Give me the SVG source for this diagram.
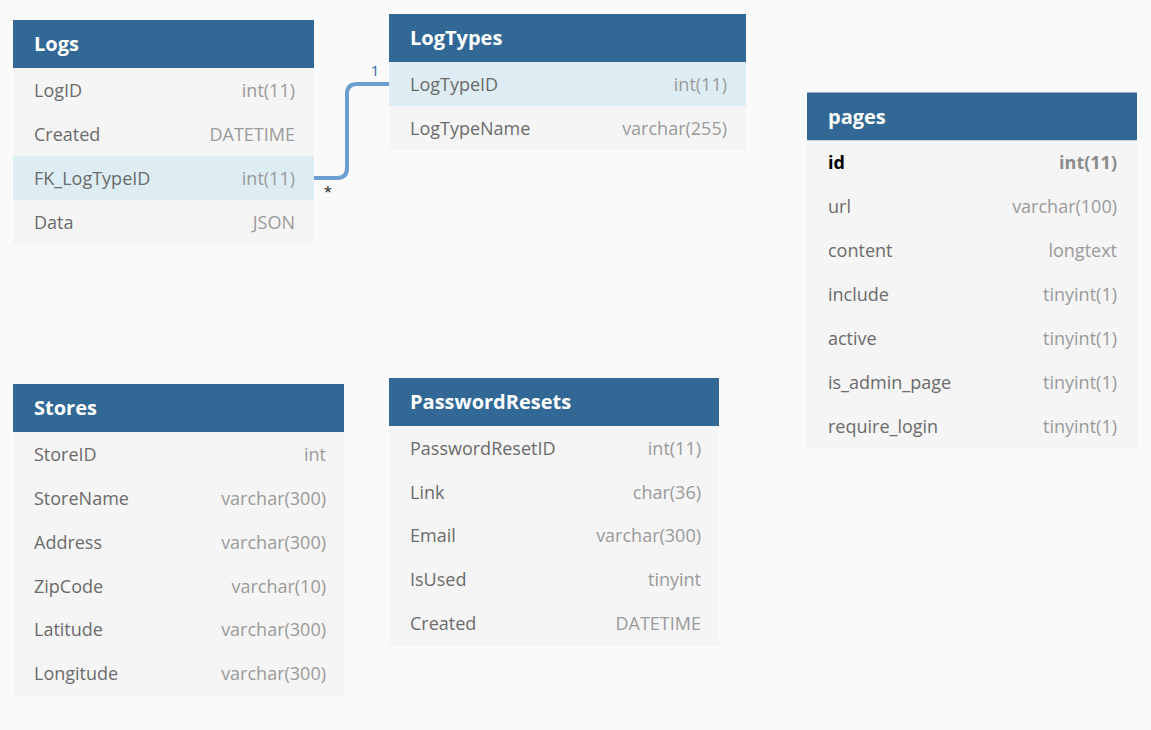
<svg xmlns="http://www.w3.org/2000/svg" width="1151" height="730" viewBox="0 0 1151 730">
<style>
.bg{fill:#fafafa}
.hd{fill:#316896}
.row{fill:#f5f5f5}
.hl{fill:#deedf4}
.ht{font-family:"Open Sans","Liberation Sans",sans-serif;font-size:20px;font-weight:bold;fill:#ffffff}
.fn{font-family:"Open Sans","Liberation Sans",sans-serif;font-size:18px;fill:#6b6b6b}
.ft{font-family:"Open Sans","Liberation Sans",sans-serif;font-size:18px;fill:#9a9a9a;text-anchor:end}
.pk{font-weight:bold;fill:#000000}
.pkt{font-weight:bold;fill:#8c8c8c}
.conn{fill:none;stroke:#6a9fd0;stroke-width:4}
.lbl{font-family:"Open Sans","Liberation Sans",sans-serif;font-size:15px}
</style>
<rect class="bg" x="0" y="0" width="1151" height="730"/>

<g id="connectors">
<path class="conn" d="M314,178 H337 Q347,178 347,168 V94 Q347,84 357,84 H389"/>
<text class="lbl" x="375" y="76" text-anchor="middle" fill="#2f6aa8">1</text>
<text class="lbl" x="328" y="197" text-anchor="middle" fill="#222222">*</text>
</g>

<g id="Logs">
<rect class="hd" x="13" y="20" width="301" height="48"/>
<text class="ht" x="34" y="51">Logs</text>
<rect class="row" x="13" y="68" width="301" height="88"/>
<rect class="hl" x="13" y="156" width="301" height="44"/>
<rect class="row" x="13" y="200" width="301" height="44"/>
<text class="fn" x="34" y="96.5">LogID</text><text class="ft" x="295" y="96.5">int(11)</text>
<text class="fn" x="34" y="140.5">Created</text><text class="ft" x="295" y="140.5">DATETIME</text>
<text class="fn" x="34" y="184.5">FK_LogTypeID</text><text class="ft" x="295" y="184.5">int(11)</text>
<text class="fn" x="34" y="228.5">Data</text><text class="ft" x="295" y="228.5">JSON</text>
</g>

<g id="LogTypes">
<rect class="hd" x="389" y="14" width="357" height="48"/>
<text class="ht" x="410" y="45">LogTypes</text>
<rect class="hl" x="389" y="62" width="357" height="44"/>
<rect class="row" x="389" y="106" width="357" height="44"/>
<text class="fn" x="410" y="90.5">LogTypeID</text><text class="ft" x="727" y="90.5">int(11)</text>
<text class="fn" x="410" y="134.5">LogTypeName</text><text class="ft" x="727" y="134.5">varchar(255)</text>
</g>

<g id="pages">
<rect class="hd" x="807" y="92.5" width="330" height="48"/>
<text class="ht" x="828" y="123.5">pages</text>
<rect class="row" x="807" y="140.5" width="330" height="308"/>
<text class="fn pk" x="828" y="169">id</text><text class="ft pkt" x="1117" y="169">int(11)</text>
<text class="fn" x="828" y="213">url</text><text class="ft" x="1117" y="213">varchar(100)</text>
<text class="fn" x="828" y="257">content</text><text class="ft" x="1117" y="257">longtext</text>
<text class="fn" x="828" y="301">include</text><text class="ft" x="1117" y="301">tinyint(1)</text>
<text class="fn" x="828" y="345">active</text><text class="ft" x="1117" y="345">tinyint(1)</text>
<text class="fn" x="828" y="389">is_admin_page</text><text class="ft" x="1117" y="389">tinyint(1)</text>
<text class="fn" x="828" y="433">require_login</text><text class="ft" x="1117" y="433">tinyint(1)</text>
</g>

<g id="Stores">
<rect class="hd" x="13" y="384" width="331" height="48"/>
<text class="ht" x="34" y="415">Stores</text>
<rect class="row" x="13" y="432" width="331" height="264"/>
<text class="fn" x="34" y="460.5">StoreID</text><text class="ft" x="326" y="460.5">int</text>
<text class="fn" x="34" y="504.5">StoreName</text><text class="ft" x="326" y="504.5">varchar(300)</text>
<text class="fn" x="34" y="548.5">Address</text><text class="ft" x="326" y="548.5">varchar(300)</text>
<text class="fn" x="34" y="592.5">ZipCode</text><text class="ft" x="326" y="592.5">varchar(10)</text>
<text class="fn" x="34" y="636">Latitude</text><text class="ft" x="326" y="636">varchar(300)</text>
<text class="fn" x="34" y="680">Longitude</text><text class="ft" x="326" y="680">varchar(300)</text>
</g>

<g id="PasswordResets">
<rect class="hd" x="389" y="378" width="330" height="48"/>
<text class="ht" x="410" y="409">PasswordResets</text>
<rect class="row" x="389" y="426" width="330" height="220"/>
<text class="fn" x="410" y="454.5">PasswordResetID</text><text class="ft" x="701" y="454.5">int(11)</text>
<text class="fn" x="410" y="498.5">Link</text><text class="ft" x="701" y="498.5">char(36)</text>
<text class="fn" x="410" y="542">Email</text><text class="ft" x="701" y="542">varchar(300)</text>
<text class="fn" x="410" y="586">IsUsed</text><text class="ft" x="701" y="586">tinyint</text>
<text class="fn" x="410" y="630">Created</text><text class="ft" x="701" y="630">DATETIME</text>
</g>
</svg>
